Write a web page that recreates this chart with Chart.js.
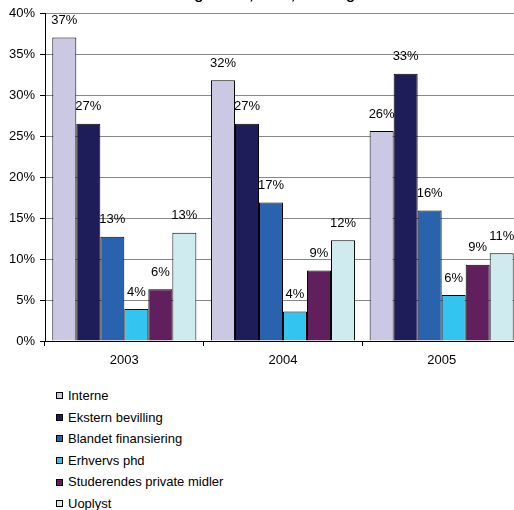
<!DOCTYPE html>
<html>
<head>
<meta charset="utf-8">
<script src="https://cdn.jsdelivr.net/npm/chart.js@4"></script>
<style>
  body { margin: 0; background: #fff; width: 514px; height: 510px; overflow: hidden; position: relative; font-family: "Liberation Sans", Arial, sans-serif; }
  #wrap { position: absolute; left: 0; top: -19px; }
  #legend { position: absolute; left: 56px; top: 385px; margin: 0; padding: 0; list-style: none; font-size: 13px; color: #000; }
  #legend li { height: 21.6px; line-height: 21.6px; display: flex; align-items: center; }
  #legend span.box { display: inline-block; width: 5px; height: 5px; border: 1px solid #000; margin-right: 5px; }
</style>
</head>
<body>
<div id="wrap"><canvas id="myChart" width="530" height="390"></canvas></div>
<ul id="legend"></ul>
<script>
const years = ['2003', '2004', '2005'];
const interne = [37.0, 31.8, 25.6];
const ekstern = [26.5, 26.5, 32.6];
const blandet = [12.7, 16.9, 15.9];
const erhvervs = [3.9, 3.6, 5.6];
const studerende = [6.3, 8.6, 9.3];
const uoplyst = [13.2, 12.3, 10.7];
const yTicks = [0, 5, 10, 15, 20, 25, 30, 35, 40];

const font = '"Liberation Sans", Arial, sans-serif';

// labels over the bars
const valueLabels = {
    id: 'valueLabels',
    afterDatasetsDraw(chart) {
        const ctx = chart.ctx;
        ctx.save();
        ctx.font = '13px ' + font;
        ctx.fillStyle = '#000';
        ctx.textAlign = 'center';
        ctx.textBaseline = 'middle';
        chart.data.datasets.forEach((ds, i) => {
            chart.getDatasetMeta(i).data.forEach((bar, j) => {
                ctx.fillText(Math.round(ds.data[j]) + '%', bar.x, bar.y - 17);
            });
        });
        ctx.restore();
    }
};

const myChart = new Chart(document.getElementById('myChart'), {
    type: 'bar',
    data: {
        labels: years,
        datasets: [
            { label: 'Interne', data: interne, backgroundColor: '#cbc8e4' },
            { label: 'Ekstern bevilling', data: ekstern, backgroundColor: '#1f1c5a' },
            { label: 'Blandet finansiering', data: blandet, backgroundColor: '#2963ae' },
            { label: 'Erhvervs phd', data: erhvervs, backgroundColor: '#33c4ef' },
            { label: 'Studerendes private midler', data: studerende, backgroundColor: '#621f5e' },
            { label: 'Uoplyst', data: uoplyst, backgroundColor: '#d0ebf0' },
        ],
    },
    options: {
        responsive: false,
        animation: false,
        layout: { padding: { left: 0, right: 9, top: 0, bottom: 0 } },
        datasets: {
            bar: { borderColor: '#000', borderWidth: 1, categoryPercentage: 0.908, barPercentage: 1 }
        },
        plugins: {
            legend: { display: false },
            tooltip: { enabled: false },
            title: {
                display: true,
                text: 'Finansiering i 2003, 2004, 2005 og samlet',
                color: '#000',
                font: { family: font, size: 15, weight: 'bold' },
                padding: { top: 5, bottom: 9 },
            }
        },
        scales: {
            x: {
                offset: true,
                grid: { display: true, drawOnChartArea: false, offset: true, tickLength: 5, tickColor: '#000' },
                border: { color: '#000' },
                ticks: { color: '#000', font: { family: font, size: 13 }, padding: 7 },
                afterFit: (s) => { s.height = 30; },
            },
            y: {
                min: 0,
                max: 40,
                afterBuildTicks: (s) => { s.ticks = yTicks.map(v => ({ value: v })); },
                grid: { color: '#878787', tickLength: 5, tickColor: '#000' },
                border: { color: '#000' },
                ticks: { color: '#000', font: { family: font, size: 13 }, padding: 5, callback: (v) => v + '%' },
                afterFit: (s) => { s.width = 45; },
            }
        }
    },
    plugins: [valueLabels]
});

// legend as one column, like the original
const ul = document.getElementById('legend');
myChart.data.datasets.forEach(ds => {
    const li = document.createElement('li');
    const box = document.createElement('span');
    box.className = 'box';
    box.style.background = ds.backgroundColor;
    li.appendChild(box);
    li.appendChild(document.createTextNode(ds.label));
    ul.appendChild(li);
});
</script>
</body>
</html>
